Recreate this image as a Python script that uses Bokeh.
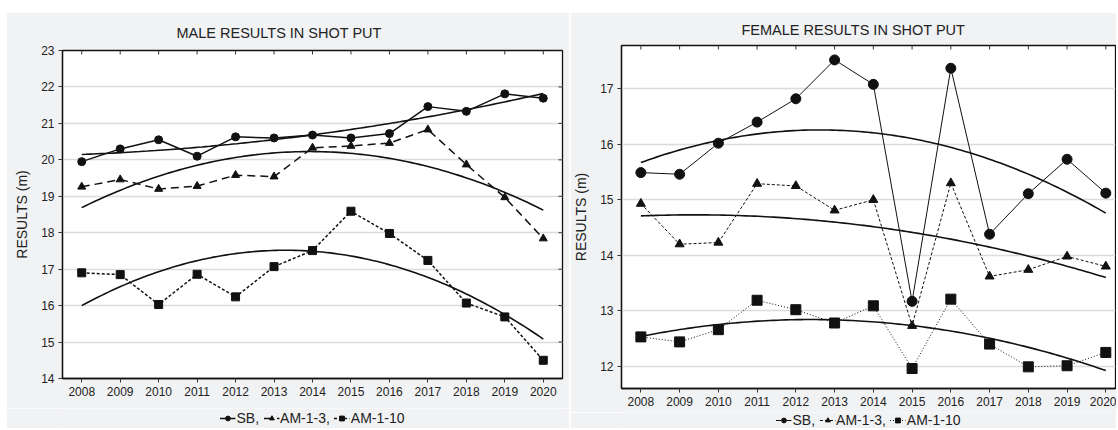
import numpy as np
from bokeh.plotting import figure
from bokeh.models import Range1d, FixedTicker, Legend, LegendItem, Spacer
from bokeh.layouts import row, column
from bokeh.embed import file_html
from bokeh.resources import INLINE

years = [2008, 2009, 2010, 2011, 2012, 2013, 2014, 2015, 2016, 2017, 2018, 2019, 2020]

male_sb = [19.95, 20.30, 20.55, 20.10, 20.63, 20.60, 20.68, 20.60, 20.72, 21.46, 21.33, 21.81, 21.69]
male_am3 = [19.26, 19.46, 19.20, 19.28, 19.58, 19.54, 20.33, 20.38, 20.46, 20.83, 19.87, 18.97, 17.84]
male_am10 = [16.90, 16.85, 16.03, 16.86, 16.24, 17.07, 17.51, 18.59, 17.98, 17.24, 16.07, 15.69, 14.50]

female_sb = [15.49, 15.46, 16.02, 16.40, 16.82, 17.52, 17.08, 13.17, 17.37, 14.38, 15.11, 15.73, 15.12]
female_am3 = [14.93, 14.20, 14.23, 15.29, 15.25, 14.81, 15.00, 12.73, 15.30, 13.62, 13.74, 13.98, 13.80]
female_am10 = [12.53, 12.44, 12.66, 13.19, 13.02, 12.78, 13.09, 11.96, 13.21, 12.40, 11.99, 12.01, 12.25]

male_yticks = [14, 15, 16, 17, 18, 19, 20, 21, 22, 23]
female_yticks = [12, 13, 14, 15, 16, 17]

series_labels = ["SB,", "AM-1-3,", "AM-1-10"]

FONT = "Liberation Sans"
BG = "#f1f2f4"
TXT = "#222222"
MARKERS = ["circle", "triangle", "square"]


def make_panel(title, sb, am3, am10, yr, yticks, xr, width, height, borders,
               title_offset, title_standoff, styles, msizes, right_ticks=True):
    p = figure(width=width, height=height, output_backend="svg", toolbar_location=None,
               x_range=Range1d(*xr), y_range=Range1d(*yr),
               min_border_left=borders[0], min_border_right=borders[1],
               min_border_top=borders[2], min_border_bottom=borders[3])
    p.background_fill_color = "white"
    p.border_fill_color = BG
    p.outline_line_color = "#111111"
    p.outline_line_width = 1.3

    p.title.text = title
    p.title.align = "left"
    p.title.offset = title_offset
    p.title.text_font = FONT
    p.title.text_font_size = "14.5px"
    p.title.text_font_style = "normal"
    p.title.text_color = TXT
    p.title.standoff = title_standoff

    p.xgrid.visible = False
    p.ygrid.grid_line_color = "#dcdcdc"
    p.ygrid.grid_line_width = 1.3
    p.ygrid.ticker = FixedTicker(ticks=yticks)

    for ax in (p.xaxis[0], p.yaxis[0]):
        ax.major_label_text_font = FONT
        ax.major_label_text_font_size = "12px"
        ax.major_label_text_color = TXT
        ax.axis_line_color = "#111111"
        ax.axis_line_width = 1.3
        ax.major_tick_line_color = "#333333"
        ax.major_tick_in = 0
        ax.major_tick_out = 4
        ax.minor_tick_line_color = None
        ax.major_label_standoff = 4
    p.xaxis[0].ticker = FixedTicker(ticks=years)
    p.yaxis[0].ticker = FixedTicker(ticks=yticks)
    p.yaxis[0].axis_label = "RESULTS (m)"
    p.yaxis[0].axis_label_text_font = FONT
    p.yaxis[0].axis_label_text_font_size = "14px"
    p.yaxis[0].axis_label_text_font_style = "normal"
    p.yaxis[0].axis_label_text_color = TXT
    p.yaxis[0].axis_label_standoff = 8

    # inward mirror ticks on top (and right) edge: half-clipped dash markers
    p.scatter(years, [yr[1]] * len(years), marker="dash", angle=np.pi / 2, size=8,
              line_color="#333333", line_width=1)
    if right_ticks:
        p.scatter([xr[1]] * len(yticks), yticks, marker="dash", size=8,
                  line_color="#333333", line_width=1)

    # quadratic trend lines fitted to each series
    xs = np.linspace(years[0], years[-1], 120)
    for vals in (sb, am3, am10):
        coef = np.polyfit(np.array(years, dtype=float) - 2014, np.array(vals), 2)
        p.line(xs, np.polyval(coef, xs - 2014), line_color="#111111", line_width=1.6)

    for vals, st, mk, ms in zip((sb, am3, am10), styles, MARKERS, msizes):
        p.line(years, vals, line_color="#111111", line_width=st[0], line_dash=st[1])
        p.scatter(years, vals, marker=mk, size=ms, fill_color="#111111", line_color="#111111")
    return p


def make_legend(width, height, borders, styles, msizes):
    # a strip under each panel that holds only the legend
    lf = figure(width=width, height=height, output_backend="svg", toolbar_location=None,
                x_range=Range1d(0, 1), y_range=Range1d(0, 1),
                min_border_left=borders[0], min_border_right=borders[1],
                min_border_top=0, min_border_bottom=0)
    lf.axis.visible = False
    lf.grid.visible = False
    lf.outline_line_color = None
    lf.background_fill_color = BG
    lf.border_fill_color = BG
    items = []
    for st, mk, ms, lab in zip(styles, MARKERS, msizes, series_labels):
        # off-range proxy glyphs: nothing shows in the strip, only the legend swatch
        ln = lf.line([5, 6], [5, 6], line_color="#111111", line_width=st[0], line_dash=st[1])
        sc = lf.scatter([5], [5], marker=mk, size=ms, fill_color="#111111", line_color="#111111")
        items.append(LegendItem(label=lab, renderers=[ln, sc]))
    leg = Legend(items=items, orientation="horizontal", location="center",
                 background_fill_alpha=0, border_line_color=None,
                 label_text_font=FONT, label_text_font_size="14px", label_text_color=TXT,
                 glyph_width=16, glyph_height=12, label_height=12, label_standoff=1,
                 spacing=4, padding=0, margin=0)
    lf.add_layout(leg, "center")
    return lf


male_styles = [(1.5, "solid"), (1.5, "8 5"), (1.5, "3 2")]
female_styles = [(1.0, "solid"), (1.0, "3 2"), (1.0, "1 2")]

p1 = make_panel("MALE RESULTS IN SHOT PUT", male_sb, male_am3, male_am10,
                (14, 23), male_yticks, (2007.5, 2020.5), 563, 396,
                (56, 7, 38, 30), 114, 19, male_styles, [8, 8, 8])
l1 = make_legend(563, 20, (56, 7), male_styles, [8, 8, 8])

p2 = make_panel("FEMALE RESULTS IN SHOT PUT", female_sb, female_am3, female_am10,
                (11.6, 17.78), female_yticks, (2007.5, 2020.25), 546, 400,
                (48, 1, 32, 24), 120, 15, female_styles, [10, 9, 10], right_ticks=False)
l2 = make_legend(546, 16, (48, 1), female_styles, [10, 9, 10])

layout = column(Spacer(height=12),
                row(Spacer(width=5), column(p1, l1), column(p2, l2), spacing=1))
open("out.html", "w").write(file_html(layout, INLINE))
